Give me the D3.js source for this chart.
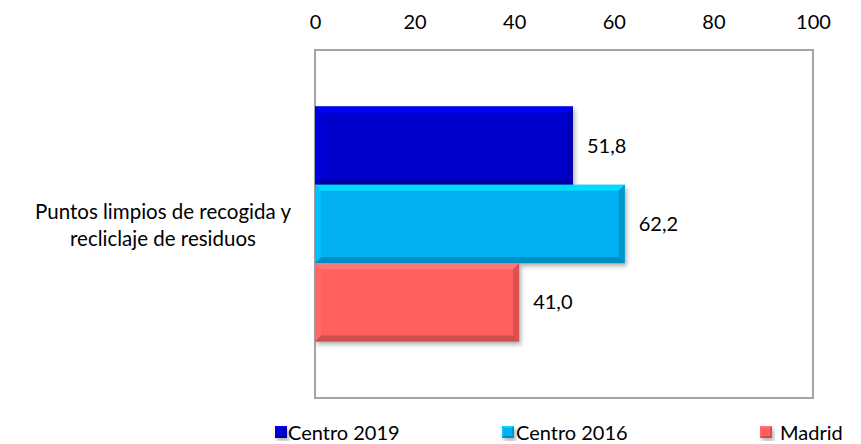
<!DOCTYPE html>
<html>
<head>
<meta charset="utf-8">
<script src="https://cdn.jsdelivr.net/npm/d3@7"></script>
<style>
  body { margin: 0; background: #fff; }
  text { font-family: Lato, "Open Sans", sans-serif; fill: #000; }
</style>
</head>
<body>
<svg id="chart" width="861" height="444"></svg>
<script>
// datos
const categoria = ['Puntos limpios de recogida y recliclaje de residuos'];
const categoriaLineas = ['Puntos limpios de recogida y', 'recliclaje de residuos'];
const series = ['Centro 2019', 'Centro 2016', 'Madrid'];
const valores = [51.8, 62.2, 41.0];
const colores = ['#0000cc', '#00b0f0', '#ff5f5f'];
const ticks = [0, 20, 40, 60, 80, 100];

const svg = d3.select('#chart');
const margin = {left: 315, right: 48, top: 50, bottom: 46};
const W = 861, H = 444;
const fs = 20;

const x = d3.scaleLinear().domain([0, 100]).range([margin.left, W - margin.right]);
const y0 = d3.scaleBand().domain(categoria).range([margin.top, H - margin.bottom]).paddingInner(0).paddingOuter(0.24);
const y1 = d3.scaleBand().domain(series).range([0, y0.bandwidth()]);

const defs = svg.append('defs');
const f = defs.append('filter').attr('id', 'sombra').attr('x', '-10%').attr('y', '-10%').attr('width', '130%').attr('height', '130%');
f.append('feDropShadow').attr('dx', 2).attr('dy', 3).attr('stdDeviation', 2).attr('flood-color', '#000').attr('flood-opacity', 0.3);

// marco del area de trazado
svg.append('rect')
  .attr('x', x(0)).attr('y', margin.top)
  .attr('width', x(100) - x(0)).attr('height', H - margin.bottom - margin.top)
  .attr('fill', 'none').attr('stroke', '#888').attr('stroke-width', 1.5);

// eje superior
const eje = svg.append('g')
  .attr('transform', `translate(0,${margin.top - 20})`)
  .call(d3.axisTop(x).tickValues(ticks).tickSize(0).tickFormat(d3.format('d')));
eje.select('.domain').remove();
eje.selectAll('text').attr('font-size', fs).attr('dy', '0.35em').attr('y', -8);

// barra con bisel
function bisel(g, x0, yy, w, h, color, b) {
  const c = d3.color(color);
  g.append('rect').attr('x', x0).attr('y', yy).attr('width', w).attr('height', h)
    .attr('fill', color).attr('filter', 'url(#sombra)');
  const caras = [
    {p: [[x0, yy], [x0 + w, yy], [x0 + w - b, yy + b], [x0 + b, yy + b]], c: c.brighter(0.6)},
    {p: [[x0, yy], [x0 + b, yy + b], [x0 + b, yy + h - b], [x0, yy + h]], c: c.brighter(0.25)},
    {p: [[x0 + w, yy], [x0 + w, yy + h], [x0 + w - b, yy + h - b], [x0 + w - b, yy + b]], c: c.darker(0.45)},
    {p: [[x0, yy + h], [x0 + w, yy + h], [x0 + w - b, yy + h - b], [x0 + b, yy + h - b]], c: c.darker(0.6)}
  ];
  g.selectAll(null).data(caras).enter().append('polygon')
    .attr('points', d => d.p.map(q => q.join(',')).join(' '))
    .attr('fill', d => d.c);
}

const barras = svg.append('g');
series.forEach((s, i) => {
  const yy = y0(categoria[0]) + y1(s);
  bisel(barras, x(0), yy, x(valores[i]) - x(0), y1.bandwidth(), colores[i], 6);
});

// etiquetas de valor
svg.append('g').selectAll('text').data(series).enter().append('text')
  .attr('x', (d, i) => x(valores[i]) + 14)
  .attr('y', d => y0(categoria[0]) + y1(d) + y1.bandwidth() / 2)
  .attr('dy', '0.35em')
  .attr('font-size', fs)
  .text((d, i) => d3.format('.1f')(valores[i]).replace('.', ','));

// etiqueta de categoria
const cy = y0(categoria[0]) + y0.bandwidth() / 2;
svg.append('text')
  .attr('x', 163).attr('y', cy - 12)
  .attr('text-anchor', 'middle')
  .attr('font-size', 20.5)
  .selectAll('tspan').data(categoriaLineas).enter().append('tspan')
  .attr('x', 163).attr('dy', (d, i) => i === 0 ? '0.35em' : 27)
  .text(d => d);

// leyenda
const legX = [275, 502, 760];
const legTextX = [288, 516, 780];
const leg = svg.append('g');
series.forEach((s, i) => {
  bisel(leg, legX[i], 426, 12, 12, colores[i], 2);
  leg.append('text').attr('x', legTextX[i]).attr('y', 433).attr('dy', '0.35em')
    .attr('font-size', fs).text(s);
});
</script>
</body>
</html>
